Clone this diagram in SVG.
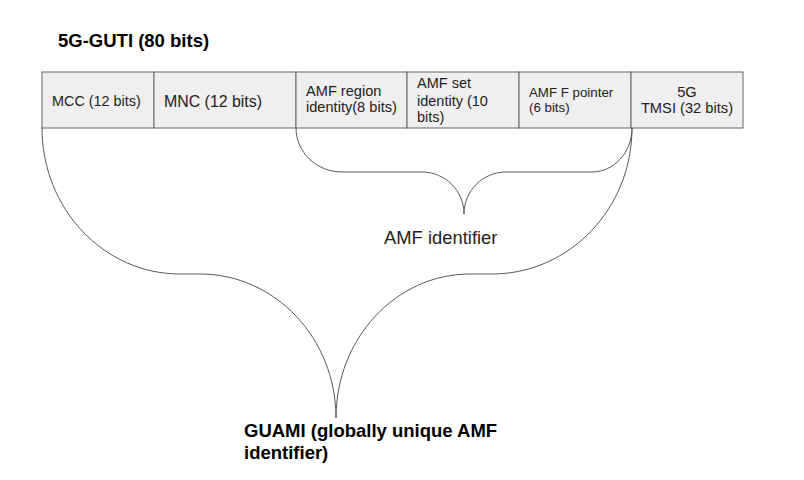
<svg xmlns="http://www.w3.org/2000/svg" width="804" height="480" viewBox="0 0 804 480">
<style>
.cell{fill:#efefef;stroke:#666;stroke-width:1}
.t{font-family:"Liberation Sans",Arial,sans-serif;fill:#222}
.b{font-family:"Liberation Sans",Arial,sans-serif;font-weight:bold;fill:#000}
.br{fill:none;stroke:#595959;stroke-width:1}
</style>
<rect width="804" height="480" fill="#fff"/>
<text class="b" x="58" y="46.5" font-size="18.5">5G-GUTI (80 bits)</text>
<g id="mcc"><rect class="cell" x="42" y="72" width="112" height="56"/><text class="t" x="52" y="106" font-size="14.4">MCC (12 bits)</text></g>
<g id="mnc"><rect class="cell" x="154" y="72" width="142" height="56"/><text class="t" x="164" y="106.5" font-size="15.9">MNC (12 bits)</text></g>
<g id="amf-region"><rect class="cell" x="296" y="72" width="111" height="56"/><text class="t" x="306" font-size="14.6"><tspan x="306" y="96">AMF region</tspan><tspan x="306" y="112">identity(8 bits)</tspan></text></g>
<g id="amf-set"><rect class="cell" x="407" y="72" width="112" height="56"/><text class="t" x="417" font-size="14.5"><tspan x="417" y="87.5">AMF set</tspan><tspan x="417" y="105.5">identity (10</tspan><tspan x="417" y="122">bits)</tspan></text></g>
<g id="amf-pointer"><rect class="cell" x="519" y="72" width="112" height="56"/><text class="t" x="529" font-size="13.3"><tspan x="529" y="96.5">AMF F pointer</tspan><tspan x="529" y="112">(6 bits)</tspan></text></g>
<g id="tmsi"><rect class="cell" x="631" y="72" width="112" height="56"/><text class="t" font-size="14.7" text-anchor="middle"><tspan x="687" y="96.5">5G</tspan><tspan x="687" y="113">TMSI (32 bits)</tspan></text></g>
<g id="connectors">
<path class="br" d="M296 128 C296 152.3 316.6 172 342 172 L422 172 C445.2 172 464 190.8 464 214 C464 190.8 482.8 172 506 172 L592 172 C614.1 172 632 152.3 632 128"/>
<path class="br" d="M42 128 C42 208.6 103.8 274 180 274 L200 274 C275.1 274 336 338.5 336 418 C336 338.5 396 274 470 274 L492 274 C569.3 274 632 208.6 632 128"/>
</g>
<g id="amf-identifier"><text class="t" x="384" y="243.5" font-size="18.4">AMF identifier</text></g>
<g id="guami"><text class="b" font-size="18.5"><tspan x="244" y="437">GUAMI (globally unique AMF</tspan><tspan x="244" y="458.5">identifier)</tspan></text></g>
</svg>
